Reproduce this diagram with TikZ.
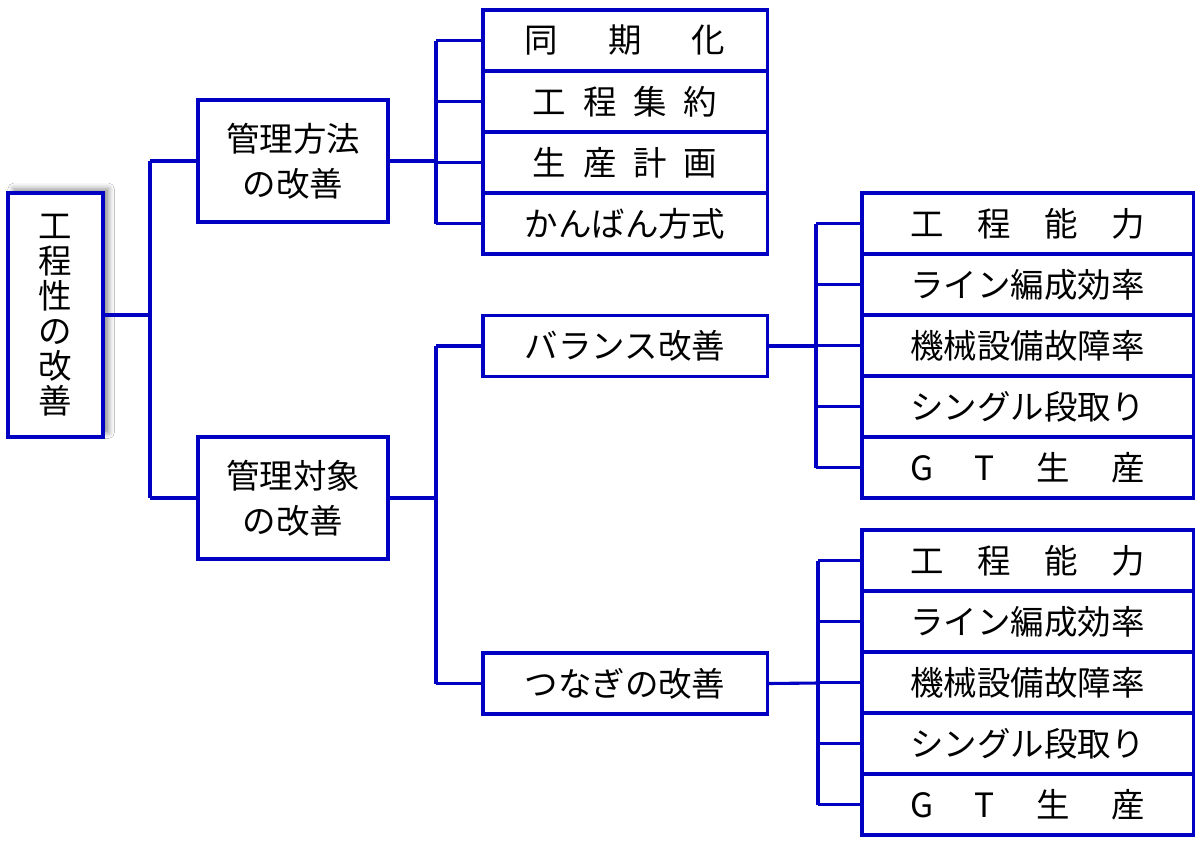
\documentclass[tikz,border=0pt]{standalone}
\usepackage{fontspec}
\newfontfamily\jpfont{Noto Sans CJK JP}
\usetikzlibrary{shadows.blur}
\definecolor{lineblue}{RGB}{0,0,195}
\newcommand{\spread}[2]{\makebox[#1]{#2}}
\tikzset{
  box/.style={draw=lineblue, line width=2.2pt, fill=white, inner sep=0pt, outer sep=0pt,
    font=\jpfont\fontsize{23.8}{32}\selectfont, align=center},
  rowA/.style={box, minimum width=7.1cm, minimum height=1.525cm},
  rowB/.style={box, minimum width=8.275cm, minimum height=1.525cm},
  link/.style={draw=lineblue, line width=2.2pt},
  bus/.style={draw=lineblue, line width=2.8pt}
}
\begin{document}
\begin{tikzpicture}[x=0.025cm,y=-0.025cm]
\useasboundingbox (0,0) rectangle (1200,844);
\fill[white] (0,0) rectangle (1200,844);

\node[box, minimum width=2.375cm, minimum height=6.1cm, font=\jpfont\fontsize{23.8}{24.9}\selectfont,
  blur shadow={shadow xshift=4pt, shadow yshift=3pt, shadow blur radius=4pt, shadow opacity=45}] (root) at (55.5,315) {工\\程\\性\\の\\改\\善};
\node[box, minimum width=4.75cm, minimum height=3.05cm] (hoho) at (293,161) {管理方法\\の改善};
\node[box, minimum width=4.75cm, minimum height=3.05cm] (taisho) at (293,498) {管理対象\\の改善};

% management method list
\node[rowA] (doki) at (625,40.5) {\spread{6em}{同\hfill 期\hfill 化}};
\node[rowA] (shuyaku) at (625,101.5) {\spread{5.5em}{工\hfill 程\hfill 集\hfill 約}};
\node[rowA] (keikaku) at (625,162.5) {\spread{5.5em}{生\hfill 産\hfill 計\hfill 画}};
\node[rowA] (kanban) at (625,223.5) {かんばん方式};

\node[rowA] (balance) at (625,346) {バランス改善};
\node[rowA] (tsunagi) at (625,683.5) {つなぎの改善};

% balance list
\node[rowB] (noryokuA) at (1027.5,223.5) {\spread{7em}{工\hfill 程\hfill 能\hfill 力}};
\node[rowB] (henseiA) at (1027.5,284.5) {ライン編成効率};
\node[rowB] (koshoA) at (1027.5,345.5) {機械設備故障率};
\node[rowB] (dandoriA) at (1027.5,406.5) {シングル段取り};
\node[rowB] (gtA) at (1027.5,467.5) {\spread{7em}{G\hfill T\hfill 生\hfill 産}};

% linkage list
\node[rowB] (noryokuB) at (1027.5,560.5) {\spread{7em}{工\hfill 程\hfill 能\hfill 力}};
\node[rowB] (henseiB) at (1027.5,621.5) {ライン編成効率};
\node[rowB] (koshoB) at (1027.5,682.5) {機械設備故障率};
\node[rowB] (dandoriB) at (1027.5,743.5) {シングル段取り};
\node[rowB] (gtB) at (1027.5,804.5) {\spread{7em}{G\hfill T\hfill 生\hfill 産}};

\coordinate (j0) at (150,315);
\coordinate (j1) at (436,161);
\coordinate (j2) at (436,498);
\coordinate (j3) at (816,346);
\coordinate (j4) at (818,683);

\draw[link] (root.east) -- (j0); \draw[link] (j0 |- hoho.west) -- (j0 |- taisho.west);
\draw[link] (j0 |- hoho.west) -- (hoho.west); \draw[link] (j0 |- taisho.west) -- (taisho.west);

\draw[link] (hoho.east) -- (j1); \draw[bus] (j1 |- doki.west) -- (j1 |- kanban.west);
\foreach \n in {doki,shuyaku,keikaku,kanban} \draw[bus] (j1 |- \n.west) -- (\n.west);

\draw[link] (taisho.east) -- (j2); \draw[bus] (j2 |- balance.west) -- (j2 |- tsunagi.west);
\draw[bus] (j2 |- balance.west) -- (balance.west); \draw[bus] (j2 |- tsunagi.west) -- (tsunagi.west);

\draw[link] (balance.east) -- (j3); \draw[link] (j3 |- noryokuA.west) -- (j3 |- gtA.west);
\foreach \n in {noryokuA,henseiA,koshoA,dandoriA,gtA} \draw[bus] (j3 |- \n.west) -- (\n.west);

\draw[link] (tsunagi.east) -- (j4); \draw[bus] (j4 |- noryokuB.west) -- (j4 |- gtB.west);
\foreach \n in {noryokuB,henseiB,koshoB,dandoriB,gtB} \draw[bus] (j4 |- \n.west) -- (\n.west);
\end{tikzpicture}
\end{document}
